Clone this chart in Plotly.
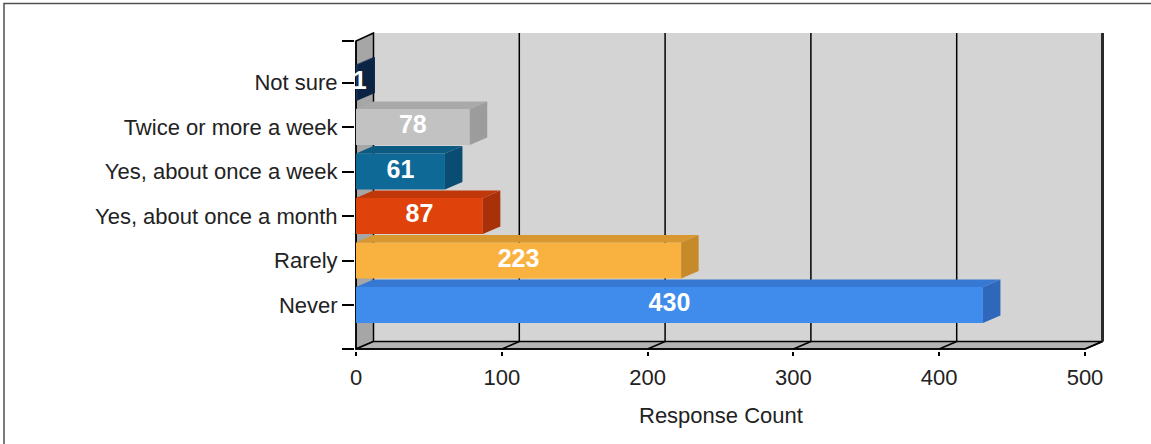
import plotly.graph_objects as go

# ---------------- data ----------------
categories = ["Never", "Rarely", "Yes, about once a month",
              "Yes, about once a week", "Twice or more a week", "Not sure"]
counts = [430, 223, 87, 61, 78, 1]
front_colors = ["#3f8cec", "#f9b240", "#df420b", "#0e6996", "#c2c2c2", "#15335e"]
top_colors = ["#3778d2", "#d9982f", "#c0380a", "#0b5a82", "#a9a9a9", "#102a50"]
side_colors = ["#2f68bb", "#c78a2a", "#a93109", "#094e72", "#9c9c9c", "#0c2444"]
x_ticks = [0, 100, 200, 300, 400, 500]
x_title = "Response Count"

# ---------------- geometry (styling constants) ----------------
W, H = 1151, 444
ML, MR, MT, MB = 355, 47, 31, 93
PW, PH = W - ML - MR, H - MT - MB
PX_PER_X = 1.458          # px per count unit
PX_PER_Y = 44.5           # px per category
X_LO = -1 / PX_PER_X
X_HI = X_LO + PW / PX_PER_X
Y_LO = (305 - (H - MB)) / PX_PER_Y
Y_HI = Y_LO + PH / PX_PER_Y
DX = 12.0                 # 3-D depth (count units)
DY = 0.17                 # 3-D depth (category units)
BW = 0.81                 # bar thickness
FLOOR = (305 - 349) / PX_PER_Y
FRONT_TOP = (305 - 41) / PX_PER_Y
BACK_TOP = (305 - 33) / PX_PER_Y
XMAX = x_ticks[-1]

fig = go.Figure()

# front faces of bars
fig.add_trace(go.Bar(
    x=counts, y=list(range(len(categories))), orientation="h", width=BW,
    marker=dict(color=front_colors, line=dict(width=0)),
    hoverinfo="skip", showlegend=False))

# top and side faces
for i, (v, tc, sc) in enumerate(zip(counts, top_colors, side_colors)):
    yt, yb = i + BW / 2, i - BW / 2
    fig.add_trace(go.Scatter(
        x=[0, v, v + DX, DX, 0], y=[yt, yt, yt + DY, yt + DY, yt],
        fill="toself", fillcolor=tc, mode="lines", line=dict(width=0, color=tc),
        hoverinfo="skip", showlegend=False))
    fig.add_trace(go.Scatter(
        x=[v, v + DX, v + DX, v, v], y=[yb, yb + DY, yt + DY, yt, yb],
        fill="toself", fillcolor=sc, mode="lines", line=dict(width=0, color=sc),
        hoverinfo="skip", showlegend=False))

# value labels
fig.add_trace(go.Scatter(
    x=[max(v / 2, 2.5) for v in counts], y=list(range(len(counts))),
    mode="text", text=["<b>%d</b>" % v for v in counts],
    textfont=dict(color="white", size=25, family="Liberation Sans, Arial"),
    hoverinfo="skip", showlegend=False))

shapes = []
# back wall
shapes.append(dict(type="rect", xref="x", yref="y", x0=DX, x1=XMAX + DX,
                   y0=FLOOR + DY, y1=BACK_TOP, fillcolor="#d4d4d4",
                   line=dict(width=0), layer="below"))
# left wall
shapes.append(dict(type="path", xref="x", yref="y",
                   path=f"M0,{FLOOR} L{DX},{FLOOR+DY} L{DX},{BACK_TOP} L0,{FRONT_TOP} Z",
                   fillcolor="#a6a6a6", line=dict(color="black", width=1.5), layer="below"))
# floor
shapes.append(dict(type="path", xref="x", yref="y",
                   path=f"M0,{FLOOR} L{XMAX},{FLOOR} L{XMAX+DX},{FLOOR+DY} L{DX},{FLOOR+DY} Z",
                   fillcolor="#b4b4b4", line=dict(color="black", width=1.5), layer="below"))
# gridlines on back wall + floor diagonals
for t in x_ticks[1:]:
    shapes.append(dict(type="line", xref="x", yref="y", x0=t + DX, x1=t + DX,
                       y0=FLOOR + DY, y1=BACK_TOP,
                       line=dict(color="black", width=1.5), layer="below"))
    shapes.append(dict(type="line", xref="x", yref="y", x0=t, x1=t + DX,
                       y0=FLOOR, y1=FLOOR + DY,
                       line=dict(color="black", width=1.5), layer="below"))
# right wall edge (thick)
shapes.append(dict(type="line", xref="x", yref="y", x0=XMAX + DX, x1=XMAX + DX,
                   y0=FLOOR + DY, y1=BACK_TOP,
                   line=dict(color="#2a2a2a", width=3), layer="below"))
# front axes
shapes.append(dict(type="line", xref="x", yref="y", x0=0, x1=0,
                   y0=FLOOR, y1=FRONT_TOP, line=dict(color="black", width=1.5), layer="below"))
shapes.append(dict(type="line", xref="x", yref="y", x0=0, x1=XMAX,
                   y0=FLOOR, y1=FLOOR, line=dict(color="black", width=1.5), layer="below"))
# outer frame of the image
shapes.append(dict(type="rect", xref="paper", yref="paper",
                   x0=(4 - ML) / PW, x1=(W + 20 - ML) / PW,
                   y0=-(MB + 20) / PH, y1=((H - MB) - 3.5) / PH,
                   line=dict(color="#505050", width=1.5), fillcolor="rgba(0,0,0,0)"))

fig.update_layout(
    width=W, height=H,
    margin=dict(l=ML, r=MR, t=MT, b=MB, pad=0),
    paper_bgcolor="white", plot_bgcolor="white",
    shapes=shapes,
    showlegend=False,
    font=dict(family="Liberation Sans, Arial", size=22, color="#222222"),
    annotations=[dict(text=x_title, xref="x", yref="paper", x=XMAX / 2,
                      y=(H - MB - 415) / PH, yanchor="middle", xanchor="center",
                      showarrow=False, font=dict(size=22, color="#222222"))],
)
fig.update_xaxes(range=[X_LO, X_HI], tickvals=x_ticks, ticktext=[str(t) for t in x_ticks],
                 showgrid=False, zeroline=False, showline=False,
                 ticks="outside", ticklen=4, tickwidth=1.5, tickcolor="black",
                 ticklabelstandoff=3, fixedrange=True)
fig.update_yaxes(range=[Y_LO, Y_HI],
                 tickvals=[FLOOR] + list(range(len(categories))) + [FRONT_TOP],
                 ticktext=[""] + categories + [""],
                 showgrid=False, zeroline=False, showline=False,
                 ticks="outside", ticklen=12, tickwidth=1.5, tickcolor="black",
                 fixedrange=True)

fig.write_html("out.html", config={"displayModeBar": False},
               post_script="document.body.style.margin='0';document.body.style.overflow='hidden';")
